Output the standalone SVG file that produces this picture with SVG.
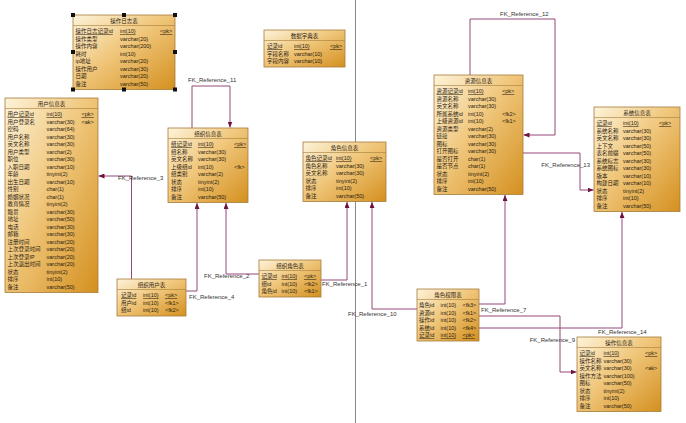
<svg xmlns="http://www.w3.org/2000/svg" width="686" height="423" viewBox="0 0 686 423">
<defs>
<linearGradient id="g" x1="0" y1="0" x2="1" y2="1">
<stop offset="0" stop-color="#fdf3da"/>
<stop offset="0.45" stop-color="#f0c77c"/>
<stop offset="1" stop-color="#d4901f"/>
</linearGradient>
<marker id="ah" markerWidth="6" markerHeight="5" refX="6" refY="2.5" orient="auto" markerUnits="userSpaceOnUse">
<path d="M0,0 L6,2.5 L0,5 Z" fill="#6e1040"/>
</marker>
<style>
.box{fill:url(#g);stroke:#a67c3a;stroke-width:0.8}
.sep{stroke:#a67c3a;stroke-width:0.6}
text{font-family:"Liberation Sans","Noto Sans CJK SC",sans-serif;font-size:5.5px;fill:#2a2010}
.t{text-anchor:middle}
.pk{text-decoration:underline}
.lbl{font-size:6px;fill:#333}
.ln{fill:none;stroke:#93497a;stroke-width:1}
.h{fill:#111}
</style>
</defs>
<rect width="686" height="423" fill="#ffffff"/>
<line x1="355.5" y1="0" x2="355.5" y2="423" stroke="#8a8a8a" stroke-width="1"/>

<g id="connectors">
<path class="ln" d="M192,128 V86 H230 V127.5" marker-end="url(#ah)"/>
<text class="lbl" x="188" y="82">FK_Reference_11</text>
<path class="ln" d="M470,75 V19 H555 V135 H523.5" marker-end="url(#ah)"/>
<text class="lbl" x="500" y="16">FK_Reference_12</text>
<path class="ln" d="M523,153 H580 V190 H593.5" marker-end="url(#ah)"/>
<text class="lbl" x="590" y="167" text-anchor="end">FK_Reference_13</text>
<path class="ln" d="M131.5,279 V176 H98.5" marker-end="url(#ah)"/>
<text class="lbl" x="118" y="179.5">FK_Reference_3</text>
<path class="ln" d="M186,291 H197 V203" marker-end="url(#ah)"/>
<text class="lbl" x="189" y="298.5">FK_Reference_4</text>
<path class="ln" d="M259,274 H226 V203" marker-end="url(#ah)"/>
<text class="lbl" x="204" y="278">FK_Reference_2</text>
<path class="ln" d="M321,280 H347 V202" marker-end="url(#ah)"/>
<text class="lbl" x="322" y="286">FK_Reference_1</text>
<path class="ln" d="M417,309 H372 V202" marker-end="url(#ah)"/>
<text class="lbl" x="348" y="316">FK_Reference_10</text>
<path class="ln" d="M479,304 H505 V195" marker-end="url(#ah)"/>
<text class="lbl" x="481" y="312">FK_Reference_7</text>
<path class="ln" d="M479,316 H560 V372 H576.5" marker-end="url(#ah)"/>
<text class="lbl" x="575" y="342" text-anchor="end">FK_Reference_9</text>
<path class="ln" d="M479,328 H622 V212" marker-end="url(#ah)"/>
<text class="lbl" x="598" y="334">FK_Reference_14</text>
</g>

<g id="t_oplog" transform="translate(73,15)">
<rect class="box" width="102" height="74.5"/>
<text class="t" x="51" y="8">操作日志表</text>
<line class="sep" x1="0" y1="10.5" x2="102" y2="10.5"/>
<text class="pk" x="2.5" y="18">操作日志记录id</text><text class="pk" x="47" y="18">int(10)</text><text class="pk" x="87" y="18">&lt;pk&gt;</text>
<text x="2.5" y="25.5">操作类型</text><text x="47" y="25.5">varchar(20)</text>
<text x="2.5" y="33">操作内容</text><text x="47" y="33">varchar(200)</text>
<text x="2.5" y="40.5">耗时</text><text x="47" y="40.5">int(10)</text>
<text x="2.5" y="48">ip地址</text><text x="47" y="48">varchar(20)</text>
<text x="2.5" y="55.5">操作用户</text><text x="47" y="55.5">varchar(30)</text>
<text x="2.5" y="63">日期</text><text x="47" y="63">varchar(20)</text>
<text x="2.5" y="70.5">备注</text><text x="47" y="70.5">varchar(50)</text>
<rect class="h" x="-2" y="-2" width="4" height="4"/><rect class="h" x="49" y="-2" width="4" height="4"/><rect class="h" x="100" y="-2" width="4" height="4"/>
<rect class="h" x="-2" y="35" width="4" height="4"/><rect class="h" x="100" y="35" width="4" height="4"/>
<rect class="h" x="-2" y="72.5" width="4" height="4"/><rect class="h" x="49" y="72.5" width="4" height="4"/><rect class="h" x="100" y="72.5" width="4" height="4"/>
</g>

<g id="t_dict" transform="translate(264,30)">
<rect class="box" width="81" height="37"/>
<text class="t" x="40.5" y="8">数据字典表</text>
<line class="sep" x1="0" y1="10.5" x2="81" y2="10.5"/>
<text class="pk" x="3" y="18">记录id</text><text class="pk" x="30" y="18">int(10)</text><text class="pk" x="66" y="18">&lt;pk&gt;</text>
<text x="3" y="25.5">字段名称</text><text x="30" y="25.5">varchar(10)</text>
<text x="3" y="33">字段内容</text><text x="30" y="33">varchar(10)</text>
</g>

<g id="t_user" transform="translate(5,98)">
<rect class="box" width="93" height="194.5"/>
<text class="t" x="46.5" y="8">用户信息表</text>
<line class="sep" x1="0" y1="10.5" x2="93" y2="10.5"/>
<text class="pk" x="2.5" y="18">用户记录id</text><text class="pk" x="41.5" y="18">int(10)</text><text class="pk" x="76.5" y="18">&lt;pk&gt;</text>
<text x="2.5" y="25.5">用户登录名</text><text x="41.5" y="25.5">varchar(30)</text><text x="76.5" y="25.5">&lt;ak&gt;</text>
<text x="2.5" y="33">密码</text><text x="41.5" y="33">varchar(64)</text>
<text x="2.5" y="40.5">用户名称</text><text x="41.5" y="40.5">varchar(30)</text>
<text x="2.5" y="48">英文名称</text><text x="41.5" y="48">varchar(30)</text>
<text x="2.5" y="55.5">用户类型</text><text x="41.5" y="55.5">varchar(2)</text>
<text x="2.5" y="63">职位</text><text x="41.5" y="63">varchar(30)</text>
<text x="2.5" y="70.5">入职日期</text><text x="41.5" y="70.5">varchar(10)</text>
<text x="2.5" y="78">年龄</text><text x="41.5" y="78">tinyint(2)</text>
<text x="2.5" y="85.5">出生日期</text><text x="41.5" y="85.5">varchar(10)</text>
<text x="2.5" y="93">性别</text><text x="41.5" y="93">char(1)</text>
<text x="2.5" y="100.5">婚姻状况</text><text x="41.5" y="100.5">char(1)</text>
<text x="2.5" y="108">教育情况</text><text x="41.5" y="108">tinyint(2)</text>
<text x="2.5" y="115.5">籍贯</text><text x="41.5" y="115.5">varchar(30)</text>
<text x="2.5" y="123">地址</text><text x="41.5" y="123">varchar(50)</text>
<text x="2.5" y="130.5">电话</text><text x="41.5" y="130.5">varchar(30)</text>
<text x="2.5" y="138">邮箱</text><text x="41.5" y="138">varchar(30)</text>
<text x="2.5" y="145.5">注册时间</text><text x="41.5" y="145.5">varchar(20)</text>
<text x="2.5" y="153">上次登录时间</text><text x="41.5" y="153">varchar(20)</text>
<text x="2.5" y="160.5">上次登录IP</text><text x="41.5" y="160.5">varchar(20)</text>
<text x="2.5" y="168">上次退出时间</text><text x="41.5" y="168">varchar(20)</text>
<text x="2.5" y="175.5">状态</text><text x="41.5" y="175.5">tinyint(2)</text>
<text x="2.5" y="183">排序</text><text x="41.5" y="183">int(10)</text>
<text x="2.5" y="190.5">备注</text><text x="41.5" y="190.5">varchar(50)</text>
</g>

<g id="t_org" transform="translate(168,128)">
<rect class="box" width="80" height="74.5"/>
<text class="t" x="40" y="8">组织信息表</text>
<line class="sep" x1="0" y1="10.5" x2="80" y2="10.5"/>
<text class="pk" x="3" y="18">组记录id</text><text class="pk" x="30" y="18">int(10)</text><text class="pk" x="66" y="18">&lt;pk&gt;</text>
<text x="3" y="25.5">组名称</text><text x="30" y="25.5">varchar(30)</text>
<text x="3" y="33">英文名称</text><text x="30" y="33">varchar(30)</text>
<text x="3" y="40.5">上级组id</text><text x="30" y="40.5">int(10)</text><text x="66" y="40.5">&lt;fk&gt;</text>
<text x="3" y="48">组类别</text><text x="30" y="48">varchar(2)</text>
<text x="3" y="55.5">状态</text><text x="30" y="55.5">tinyint(2)</text>
<text x="3" y="63">排序</text><text x="30" y="63">int(10)</text>
<text x="3" y="70.5">备注</text><text x="30" y="70.5">varchar(50)</text>
</g>

<g id="t_role" transform="translate(303,142)">
<rect class="box" width="83" height="59.5"/>
<text class="t" x="41.5" y="8">角色信息表</text>
<line class="sep" x1="0" y1="10.5" x2="83" y2="10.5"/>
<text class="pk" x="2.5" y="18">角色记录id</text><text class="pk" x="33" y="18">int(10)</text><text class="pk" x="67" y="18">&lt;pk&gt;</text>
<text x="2.5" y="25.5">角色名称</text><text x="33" y="25.5">varchar(30)</text>
<text x="2.5" y="33">英文名称</text><text x="33" y="33">varchar(30)</text>
<text x="2.5" y="40.5">状态</text><text x="33" y="40.5">tinyint(2)</text>
<text x="2.5" y="48">排序</text><text x="33" y="48">int(10)</text>
<text x="2.5" y="55.5">备注</text><text x="33" y="55.5">varchar(50)</text>
</g>

<g id="t_orguser" transform="translate(117,279)">
<rect class="box" width="69" height="37"/>
<text class="t" x="34.5" y="8">组织用户表</text>
<line class="sep" x1="0" y1="10.5" x2="69" y2="10.5"/>
<text class="pk" x="4" y="18">记录id</text><text class="pk" x="26" y="18">int(10)</text><text class="pk" x="48" y="18">&lt;pk&gt;</text>
<text x="4" y="25.5">用户id</text><text x="26" y="25.5">int(10)</text><text x="48" y="25.5">&lt;fk1&gt;</text>
<text x="4" y="33">组id</text><text x="26" y="33">int(10)</text><text x="48" y="33">&lt;fk2&gt;</text>
</g>

<g id="t_orgrole" transform="translate(259,260)">
<rect class="box" width="62" height="37"/>
<text class="t" x="31" y="8">组织角色表</text>
<line class="sep" x1="0" y1="10.5" x2="62" y2="10.5"/>
<text class="pk" x="2.5" y="18">记录id</text><text class="pk" x="22.5" y="18">int(10)</text><text class="pk" x="45" y="18">&lt;pk&gt;</text>
<text x="2.5" y="25.5">组id</text><text x="22.5" y="25.5">int(10)</text><text x="45" y="25.5">&lt;fk2&gt;</text>
<text x="2.5" y="33">角色id</text><text x="22.5" y="33">int(10)</text><text x="45" y="33">&lt;fk1&gt;</text>
</g>

<g id="t_res" transform="translate(434,75)">
<rect class="box" width="89" height="119.5"/>
<text class="t" x="44.5" y="8">资源信息表</text>
<line class="sep" x1="0" y1="10.5" x2="89" y2="10.5"/>
<text class="pk" x="2.5" y="18">资源记录id</text><text class="pk" x="34" y="18">int(10)</text><text class="pk" x="68" y="18">&lt;pk&gt;</text>
<text x="2.5" y="25.5">资源名称</text><text x="34" y="25.5">varchar(30)</text>
<text x="2.5" y="33">英文名称</text><text x="34" y="33">varchar(30)</text>
<text x="2.5" y="40.5">所属系统id</text><text x="34" y="40.5">int(10)</text><text x="68" y="40.5">&lt;fk2&gt;</text>
<text x="2.5" y="48">上级资源id</text><text x="34" y="48">int(10)</text><text x="68" y="48">&lt;fk1&gt;</text>
<text x="2.5" y="55.5">资源类型</text><text x="34" y="55.5">varchar(2)</text>
<text x="2.5" y="63">链接</text><text x="34" y="63">varchar(30)</text>
<text x="2.5" y="70.5">图标</text><text x="34" y="70.5">varchar(30)</text>
<text x="2.5" y="78">打开图标</text><text x="34" y="78">varchar(30)</text>
<text x="2.5" y="85.5">是否打开</text><text x="34" y="85.5">char(1)</text>
<text x="2.5" y="93">是否节点</text><text x="34" y="93">char(1)</text>
<text x="2.5" y="100.5">状态</text><text x="34" y="100.5">tinyint(2)</text>
<text x="2.5" y="108">排序</text><text x="34" y="108">int(10)</text>
<text x="2.5" y="115.5">备注</text><text x="34" y="115.5">varchar(50)</text>
</g>

<g id="t_sys" transform="translate(594,107)">
<rect class="box" width="86" height="104.5"/>
<text class="t" x="43" y="8">系统信息表</text>
<line class="sep" x1="0" y1="10.5" x2="86" y2="10.5"/>
<text class="pk" x="2.5" y="18">记录id</text><text class="pk" x="29" y="18">int(10)</text><text class="pk" x="65" y="18">&lt;pk&gt;</text>
<text x="2.5" y="25.5">系统名称</text><text x="29" y="25.5">varchar(30)</text>
<text x="2.5" y="33">英文名称</text><text x="29" y="33">varchar(30)</text>
<text x="2.5" y="40.5">上下文</text><text x="29" y="40.5">varchar(50)</text>
<text x="2.5" y="48">表名前缀</text><text x="29" y="48">varchar(50)</text>
<text x="2.5" y="55.5">系统标志</text><text x="29" y="55.5">varchar(30)</text>
<text x="2.5" y="63">系统图标</text><text x="29" y="63">varchar(30)</text>
<text x="2.5" y="70.5">版本</text><text x="29" y="70.5">varchar(10)</text>
<text x="2.5" y="78">构建日期</text><text x="29" y="78">varchar(10)</text>
<text x="2.5" y="85.5">状态</text><text x="29" y="85.5">tinyint(2)</text>
<text x="2.5" y="93">排序</text><text x="29" y="93">int(10)</text>
<text x="2.5" y="100.5">备注</text><text x="29" y="100.5">varchar(50)</text>
</g>

<g id="t_roleperm" transform="translate(417,289)">
<rect class="box" width="62" height="52"/>
<text class="t" x="31" y="8">角色权限表</text>
<line class="sep" x1="0" y1="10.5" x2="62" y2="10.5"/>
<text x="2" y="18">角色id</text><text x="23.5" y="18">int(10)</text><text x="45.5" y="18">&lt;fk3&gt;</text>
<text x="2" y="25.5">资源id</text><text x="23.5" y="25.5">int(10)</text><text x="45.5" y="25.5">&lt;fk1&gt;</text>
<text x="2" y="33">操作id</text><text x="23.5" y="33">int(10)</text><text x="45.5" y="33">&lt;fk2&gt;</text>
<text x="2" y="40.5">系统id</text><text x="23.5" y="40.5">int(10)</text><text x="45.5" y="40.5">&lt;fk4&gt;</text>
<text class="pk" x="2" y="48">记录id</text><text class="pk" x="23.5" y="48">int(10)</text><text class="pk" x="45.5" y="48">&lt;pk&gt;</text>
</g>

<g id="t_op" transform="translate(577,337)">
<rect class="box" width="84" height="74.5"/>
<text class="t" x="42" y="8">操作信息表</text>
<line class="sep" x1="0" y1="10.5" x2="84" y2="10.5"/>
<text class="pk" x="2.5" y="18">记录id</text><text class="pk" x="26.5" y="18">int(10)</text><text class="pk" x="68" y="18">&lt;pk&gt;</text>
<text x="2.5" y="25.5">操作名称</text><text x="26.5" y="25.5">varchar(30)</text>
<text x="2.5" y="33">英文名称</text><text x="26.5" y="33">varchar(30)</text><text x="68" y="33">&lt;ak&gt;</text>
<text x="2.5" y="40.5">操作方法</text><text x="26.5" y="40.5">varchar(100)</text>
<text x="2.5" y="48">图标</text><text x="26.5" y="48">varchar(50)</text>
<text x="2.5" y="55.5">状态</text><text x="26.5" y="55.5">tinyint(2)</text>
<text x="2.5" y="63">排序</text><text x="26.5" y="63">int(10)</text>
<text x="2.5" y="70.5">备注</text><text x="26.5" y="70.5">varchar(50)</text>
</g>
</svg>
